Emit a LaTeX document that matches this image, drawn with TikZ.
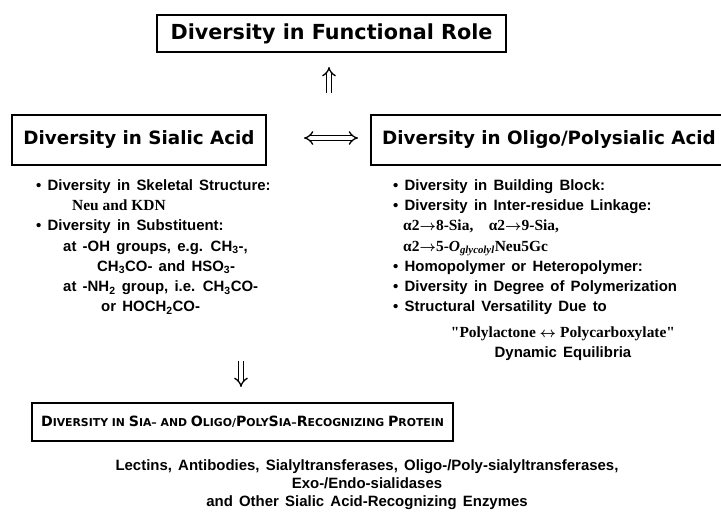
\documentclass[tikz,border=0pt]{standalone}
\usepackage{fontspec}
\newfontfamily\dispfont{DejaVu Sans}
\newfontfamily\hvfont[WordSpace=1.5]{Liberation Sans}
\newfontfamily\seriffont{Liberation Serif}
\usetikzlibrary{arrows.meta}

% serif bits inside the lists
\newcommand\serifbit{\seriffont\bfseries\boldmath\fontsize{15.5}{15.5}\selectfont}
\newcommand\linkarrow{${\rightarrow}$}
% fake small caps for the lower title
\newcommand\capbig[1]{{\fontsize{14.2}{14.2}\selectfont #1}}

\tikzset{
  titlebox/.style={draw, line width=1.2bp, inner sep=0pt},
  titlefont/.style={font=\dispfont\bfseries\fontsize{#1}{#1}\selectfont},
  listtext/.style={inner sep=0pt, align=left,
    font=\hvfont\bfseries\fontsize{15}{20.3}\selectfont},
  dblarrow/.style={double, double distance=3.4bp, line width=1.3bp, -{Implies}},
}

\begin{document}
\begin{tikzpicture}[x=1bp, y=-1bp]
  \useasboundingbox (0,0) rectangle (721,515);
  \clip (0,0) rectangle (721,515);

  % boxes
  \node[titlebox, titlefont=20.8, minimum width=349bp, minimum height=37bp] (role) at (331.5,33.5) {Diversity in Functional Role};
  \node[titlebox, titlefont=18.4, minimum width=254bp, minimum height=50bp] (sialic) at (139,140) {Diversity in Sialic Acid};
  \node[titlebox, titlefont=18.4, minimum width=356bp, minimum height=50bp] (oligo) at (549,140) {Diversity in Oligo/Polysialic Acid};
  \node[titlebox, titlefont=10.9, minimum width=421bp, minimum height=38bp] (protein) at (242.5,422)
    {\capbig{D}IVERSITY IN \capbig{S}IA– AND \capbig{O}LIGO/\capbig{P}OLY\capbig{S}IA–\capbig{R}ECOGNIZING \capbig{P}ROTEIN};

  % lists
  \node[listtext, anchor=north west] (sialiclist) at (36,179.5) {%
    • Diversity in Skeletal Structure:\\
    \hspace*{36bp}{\serifbit Neu and KDN}\\
    • Diversity in Substituent:\\
    \hspace*{27bp}at -OH groups, e.g. CH\textsubscript{3}-,\\
    \hspace*{61bp}CH\textsubscript{3}CO- and HSO\textsubscript{3}-\\
    \hspace*{27bp}at -NH\textsubscript{2} group, i.e. CH\textsubscript{3}CO-\\
    \hspace*{65bp}or HOCH\textsubscript{2}CO-};
  \node[listtext, anchor=north west] (oligolist) at (393,179.5) {%
    • Diversity in Building Block:\\
    • Diversity in Inter-residue Linkage:\\
    \hspace*{10bp}{\serifbit α2\linkarrow8-Sia,\quad α2\linkarrow9-Sia,}\\
    \hspace*{10bp}{\serifbit α2\linkarrow5-\textit{O}\textsubscript{\textit{glycolyl}}Neu5Gc}\\
    • Homopolymer or Heteropolymer:\\
    • Diversity in Degree of Polymerization\\
    • Structural Versatility Due to};
  \node[listtext, align=center] (equil) at (563,344) {%
    {\serifbit "Polylactone ${\leftrightarrow}$ Polycarboxylate"}\\
    Dynamic Equilibria};

  % enzymes
  \node[listtext, align=center, font=\hvfont\bfseries\fontsize{15}{18}\selectfont] (enzymes) at (367,485) {%
    Lectins, Antibodies, Sialyltransferases, Oligo-/Poly-sialyltransferases,\\
    Exo-/Endo-sialidases\\
    and Other Sialic Acid-Recognizing Enzymes};

  % arrows
  \coordinate (upfoot) at (329,93);
  \coordinate (uphead) at (329,67);
  \coordinate (lrleft) at (304,138);
  \coordinate (lrmid) at (331,138);
  \coordinate (lrright) at (358,138);
  \coordinate (downfoot) at (241,361);
  \coordinate (downhead) at (241,387);
  \draw[dblarrow] (upfoot) -- (uphead);
  \draw[dblarrow] (lrmid) -- (lrleft);
  \draw[dblarrow] (lrmid) -- (lrright);
  \draw[dblarrow] (downfoot) -- (downhead);
\end{tikzpicture}
\end{document}
